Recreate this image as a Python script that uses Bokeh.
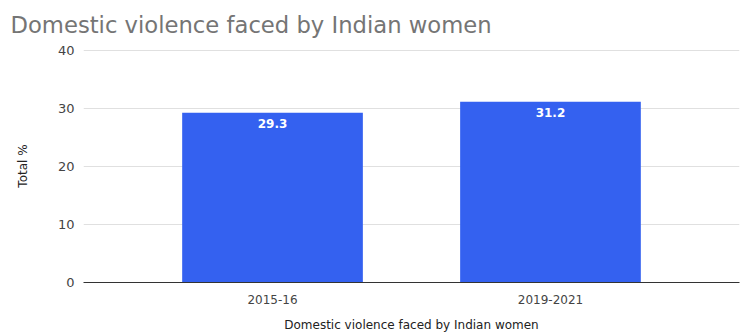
from bokeh.plotting import figure
from bokeh.models import FactorRange, Range1d, FixedTicker, ColumnDataSource, LabelSet
from bokeh.core.properties import value
from bokeh.embed import file_html
from bokeh.resources import INLINE

title = "Domestic violence faced by Indian women"
categories = ["2015-16", "2019-2021"]
values = [29.3, 31.2]
labels = ["29.3", "31.2"]
y_ticks = [0, 10, 20, 30, 40]
y_label = "Total %"
x_label = "Domestic violence faced by Indian women"

FONT = "DejaVu Sans"

src = ColumnDataSource(dict(x=categories, top=values, lab=labels))

p = figure(
    width=741, height=334,
    x_range=FactorRange(factors=categories, range_padding=0.18, range_padding_units="absolute"),
    y_range=Range1d(0, 40.2),
    output_backend="svg", toolbar_location=None,
    min_border_left=83, min_border_right=2, min_border_top=49, min_border_bottom=49,
)

p.vbar(x="x", top="top", width=0.65, source=src, color="#3461f0", line_color=None)

p.add_layout(LabelSet(x="x", y="top", text="lab", source=src, y_offset=-6,
                      text_align="center", text_baseline="top", text_color="white",
                      text_font=value(FONT), text_font_size="12px", text_font_style="bold"))

p.title.text = title
p.title.text_font = FONT
p.title.text_font_size = "22.7px"
p.title.text_font_style = "normal"
p.title.text_color = "#757575"
p.title.align = "left"
p.title.offset = -73
p.title.standoff = 20
p.title.vertical_align = "top"

p.outline_line_color = None
p.xgrid.grid_line_color = None
p.ygrid.grid_line_color = "#e0e0e0"
p.yaxis.ticker = FixedTicker(ticks=y_ticks)

for ax in (p.xaxis[0], p.yaxis[0]):
    ax.major_tick_line_color = None
    ax.minor_tick_line_color = None
    ax.major_label_text_font = FONT
    ax.major_label_text_font_size = "12px"
    ax.major_label_text_color = "#444444"
    ax.axis_label_text_font = FONT
    ax.axis_label_text_font_size = "12px"
    ax.axis_label_text_font_style = "normal"
    ax.axis_label_text_color = "#222222"

p.yaxis.axis_line_color = None
p.yaxis.axis_label = y_label
p.yaxis.major_label_text_font_size = "13px"
p.yaxis.major_label_standoff = 3
p.yaxis.axis_label_standoff = 25
p.xaxis.axis_line_color = "#333333"
p.xaxis.axis_label = x_label
p.xaxis.major_label_standoff = 6
p.xaxis.axis_label_standoff = 11

open("out.html", "w").write(file_html(p, INLINE))
